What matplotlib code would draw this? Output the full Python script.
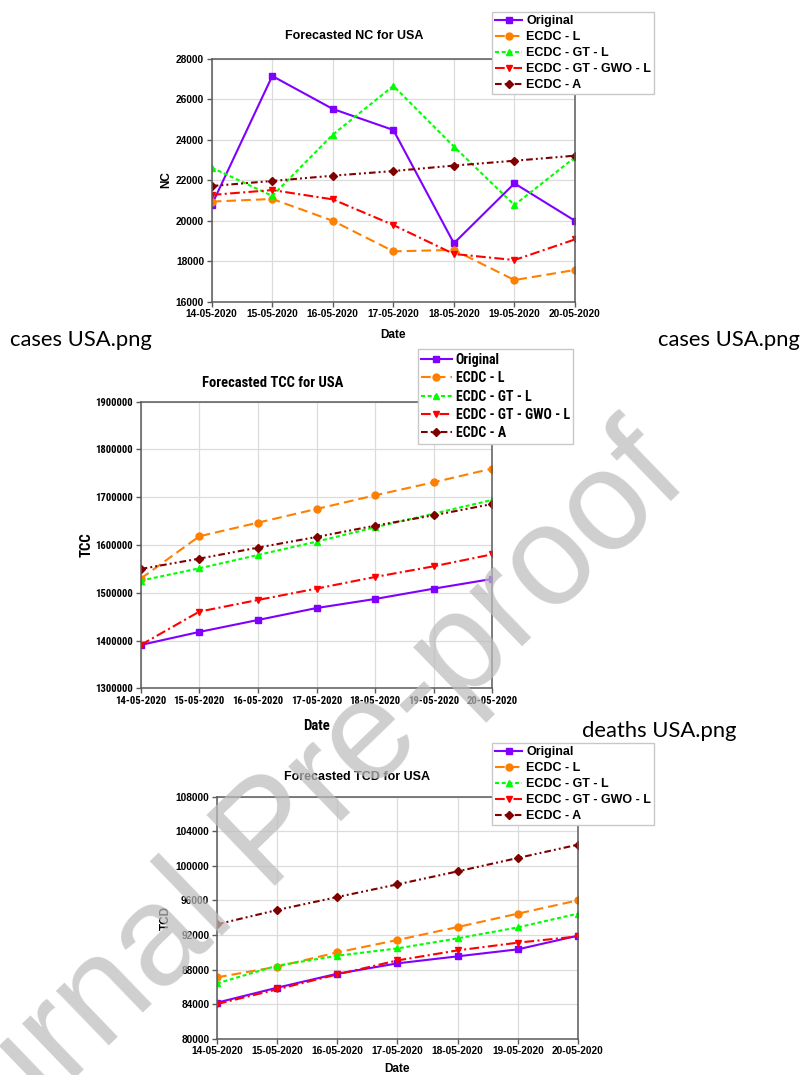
import numpy as np
import matplotlib
matplotlib.use("Agg")
import matplotlib.pyplot as plt
from matplotlib import font_manager
from matplotlib.font_manager import FontProperties
from matplotlib.textpath import TextPath

plt.rcParams['lines.scale_dashes'] = False

dates = ["14-05-2020", "15-05-2020", "16-05-2020", "17-05-2020",
         "18-05-2020", "19-05-2020", "20-05-2020"]
series_names = ["Original", "ECDC - L", "ECDC - GT - L", "ECDC - GT - GWO - L", "ECDC - A"]

# new cases
nc_original = [20780, 27160, 25530, 24490, 18890, 21850, 20000]
nc_ecdc_l = [20950, 21080, 20000, 18490, 18560, 17070, 17570]
nc_ecdc_gt_l = [22630, 21230, 24260, 26670, 23670, 20780, 23140]
nc_ecdc_gt_gwo_l = [21280, 21520, 21060, 19790, 18360, 18060, 19080]
nc_ecdc_a = [21720, 21970, 22230, 22460, 22730, 22970, 23220]

# total confirmed cases
tcc_original = [1390700, 1418000, 1443000, 1468000, 1487000, 1508600, 1529000]
tcc_ecdc_l = [1529600, 1618200, 1646800, 1675400, 1704000, 1731300, 1760000]
tcc_ecdc_gt_l = [1525400, 1551200, 1579100, 1607000, 1637000, 1665700, 1694300]
tcc_ecdc_gt_gwo_l = [1390700, 1460500, 1484900, 1508700, 1533100, 1555400, 1580500]
tcc_ecdc_a = [1549800, 1571500, 1594500, 1616800, 1640500, 1662200, 1685900]

# total confirmed deaths
tcd_original = [84170, 85900, 87520, 88720, 89530, 90340, 91920]
tcd_ecdc_l = [87100, 88330, 89990, 91420, 92920, 94470, 96010]
tcd_ecdc_gt_l = [86400, 88450, 89600, 90450, 91610, 92880, 94470]
tcd_ecdc_gt_gwo_l = [84010, 85710, 87440, 89060, 90220, 91110, 91840]
tcd_ecdc_a = [93230, 94890, 96390, 97860, 99360, 100910, 102450]

colors = ['#8000ff', '#ff8000', '#00ff00', '#ff0000', '#800000']
markers = ['s', 'o', '^', 'v', 'D']
msizes = [4, 5, 5, 5, 4]
dashes = [None, (7, 3.6), (2.9, 1.9), (7, 2.4, 1.5, 2.4), (4.8, 2.2, 1.4, 2.2, 1.4, 2.2)]

W, H = 803, 1075
fig = plt.figure(figsize=(W / 100, H / 100), dpi=100)


def px(x, y):
    return x / W, 1 - y / H


def fit_size(text, fam, width_px):
    # font size (pt) that makes the bold text width_px wide
    tp = TextPath((0, 0), text, size=10, prop=FontProperties(family=fam, weight='bold'))
    return 10 * (width_px * 0.72) / tp.get_extents().width


def panel(box, series, ylim, ystep, title, title_xy, ylabel, ylabel_xy, xlabel_xy,
          leg_xy, fam, tick_fs, lab_fs, title_fs, leg_fs, leg_space):
    x0, y0 = px(box[0], box[3])
    x1, y1 = px(box[2], box[1])
    ax = fig.add_axes([x0, y0, x1 - x0, y1 - y0])
    x = np.arange(len(dates))
    handles = []
    for i, vals in enumerate(series):
        kw = dict(color=colors[i], lw=1.5, marker=markers[i], ms=msizes[i],
                  mec=colors[i], mfc=colors[i], label=series_names[i])
        if dashes[i] is not None:
            kw['dashes'] = dashes[i]
        h, = ax.plot(x, vals, **kw)
        handles.append(h)
    ax.set_xlim(0, len(dates) - 1)
    ax.set_ylim(*ylim)
    ax.set_xticks(x)
    ax.set_xticklabels(dates)
    ax.set_yticks(np.arange(ylim[0], ylim[1] + 1, ystep))
    ax.ticklabel_format(axis='y', style='plain', useOffset=False)
    ax.grid(True, color='#dcdcdc', lw=0.9)
    ax.set_axisbelow(True)
    for s in ax.spines.values():
        s.set_color('#5a5a5a')
        s.set_linewidth(1.1)
    ax.tick_params(direction='out', length=3.5, width=1, color='#5a5a5a', pad=2,
                   labelsize=tick_fs)
    for lab in ax.get_xticklabels() + ax.get_yticklabels():
        lab.set_fontweight('bold')
        lab.set_family(fam)
    fig.text(*px(*title_xy), title, ha='center', va='center', fontsize=title_fs,
             fontweight='bold', family=fam)
    fig.text(*px(*ylabel_xy), ylabel, ha='center', va='center', rotation=90,
             fontsize=lab_fs, fontweight='bold', family=fam)
    fig.text(*px(*xlabel_xy), "Date", ha='center', va='center',
             fontsize=lab_fs, fontweight='bold', family=fam)
    fig.legend(handles=handles, loc='upper left', bbox_to_anchor=px(*leg_xy),
               borderaxespad=0, frameon=True, fancybox=False, framealpha=1,
               edgecolor='#c8c8c8', handlelength=2.2, handletextpad=0.3,
               borderpad=0.25, labelspacing=leg_space,
               prop=dict(family=fam, weight='bold', size=leg_fs))
    return ax


installed = {f.name for f in font_manager.fontManager.ttflist}
arial = ['Liberation Sans', 'DejaVu Sans']
narrow_name = next((n for n in ['Liberation Sans Narrow', 'Arial Narrow', 'Roboto Condensed',
                                'DejaVu Sans Condensed'] if n in installed), 'Liberation Sans')
narrow = [narrow_name, 'DejaVu Sans']

# the middle chart uses a condensed face; size it so the date labels are ~50 px wide
n_tick = fit_size("14-05-2020", narrow, 50)
r = n_tick / 8.8
n_leg = 10.3 * r * 1.1
n_leg_space = max(0.2, (21 - 1.2 * n_leg * 100 / 72) / (n_leg * 100 / 72))

panel((211.7, 59, 575, 301.7),
      [nc_original, nc_ecdc_l, nc_ecdc_gt_l, nc_ecdc_gt_gwo_l, nc_ecdc_a],
      (16000, 28000), 2000, "Forecasted NC for USA", (354, 36),
      "NC", (166, 180), (393, 335), (491.7, 12), arial, 7.3, 8.5, 9, 9.0, 0.32)

panel((140.7, 401.7, 492.3, 688.3),
      [tcc_original, tcc_ecdc_l, tcc_ecdc_gt_l, tcc_ecdc_gt_gwo_l, tcc_ecdc_a],
      (1300000, 1900000), 100000, "Forecasted TCC for USA", (272.7, 382.7),
      "TCC", (87, 545), (316.7, 726), (417.7, 349.3), narrow, n_tick, 10.5 * r * 1.15,
      10.6 * r * 1.13, n_leg, n_leg_space)

panel((217, 796.7, 578, 1038.7),
      [tcd_original, tcd_ecdc_l, tcd_ecdc_gt_l, tcd_ecdc_gt_gwo_l, tcd_ecdc_a],
      (80000, 108000), 4000, "Forecasted TCD for USA", (356.7, 776.7),
      "TCD", (166, 918), (397, 1069), (491.7, 743), arial, 7.3, 8.5, 9, 9.0, 0.32)

# file name captions from the source page
cap = dict(fontsize=15.8, family=['Lato', 'DejaVu Sans'], va='baseline', color='black')
fig.text(*px(10, 346), "cases USA.png", ha='left', **cap)
fig.text(*px(800, 346), "cases USA.png", ha='right', **cap)
fig.text(*px(582, 737), "deaths USA.png", ha='left', **cap)

# watermark
fig.text(*px(298, 863), "Journal Pre-proof", ha='center', va='baseline', rotation=44,
         rotation_mode='anchor', fontsize=102, color='#bcbcbc', alpha=0.72,
         family=['Liberation Sans', 'DejaVu Sans'], zorder=10)

fig.savefig("out.png", dpi=100)
